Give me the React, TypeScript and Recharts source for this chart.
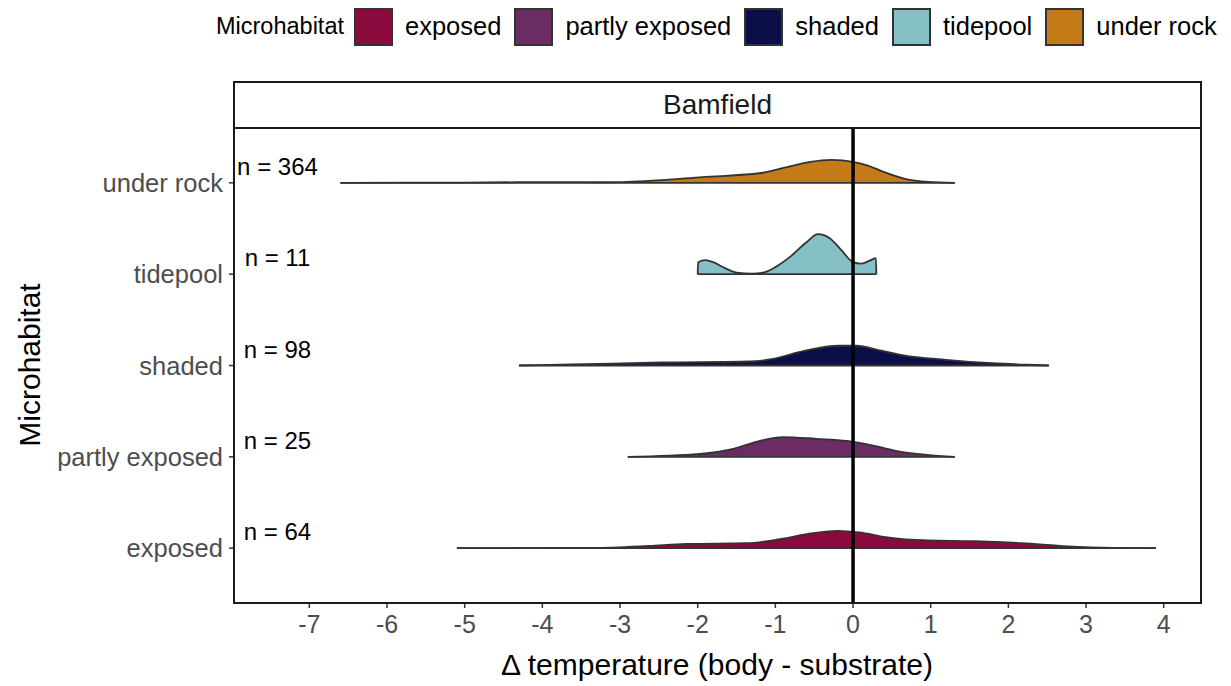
import { ComposedChart, Area, Scatter, XAxis, YAxis, ReferenceLine } from 'recharts';

// Microhabitat rows, bottom to top
const categories = ['exposed', 'partly exposed', 'shaded', 'tidepool', 'under rock'];
const colors = ['#8A0A3E', '#6A2C62', '#0C0F47', '#84C0C6', '#C47A17'];
const counts = [64, 25, 98, 11, 364];
const xTicks = [-7, -6, -5, -4, -3, -2, -1, 0, 1, 2, 3, 4];

// density ridges: [delta temperature, ridge height in row units]
const exposed = [
    [-5.1, 0], [-3.35, 0.003], [-2.63, 0.025], [-2.15, 0.047], [-1.37, 0.055], [-0.94, 0.099],
    [-0.52, 0.164], [-0.2, 0.189], [0.08, 0.172], [0.42, 0.12], [0.97, 0.084], [1.56, 0.077],
    [2.17, 0.055], [2.76, 0.019], [3.36, 0.003], [3.9, 0],
];
const partlyExposed = [
    [-2.9, 0], [-1.97, 0.033], [-1.54, 0.088], [-1.2, 0.175], [-0.9, 0.216], [-0.47, 0.197],
    [-0.08, 0.175], [0.26, 0.124], [0.6, 0.058], [0.95, 0.022], [1.31, 0],
];
const shaded = [
    [-4.3, 0], [-3.63, 0.011], [-2.47, 0.033], [-1.33, 0.044], [-1.05, 0.069], [-0.63, 0.161],
    [-0.18, 0.216], [0.05, 0.216], [0.33, 0.168], [0.65, 0.11], [1.2, 0.062], [1.8, 0.025],
    [2.25, 0.008], [2.52, 0],
];
const tidepool = [
    [-2.0, 0], [-1.995, 0.131], [-1.9, 0.153], [-1.8, 0.131], [-1.65, 0.066], [-1.5, 0.016],
    [-1.3, 0.005], [-1.16, 0.016], [-1.0, 0.077], [-0.8, 0.197], [-0.6, 0.35], [-0.45, 0.438],
    [-0.3, 0.394], [-0.15, 0.263], [0, 0.131], [0.1, 0.115], [0.2, 0.142], [0.295, 0.175], [0.3, 0],
];
const underRock = [
    [-6.6, 0], [-5.0, 0.003], [-3.8, 0.008], [-3.2, 0.006], [-2.68, 0.019], [-1.94, 0.062],
    [-1.16, 0.11], [-0.85, 0.172], [-0.55, 0.23], [-0.28, 0.252], [0, 0.23], [0.2, 0.186],
    [0.36, 0.131], [0.67, 0.044], [0.97, 0.011], [1.31, 0],
];
const ridges = [exposed, partlyExposed, shaded, tidepool, underRock];

// n labels sit left of the ridges
const labelX = -7.41;
const labelLift = 0.18;

const FONT = '"Liberation Sans", Arial, sans-serif';
const W = 1231;
const H = 686;

const ridgeData = ridges.map((pts, i) =>
    pts.map(([x, h]) => ({ x, range: [i + 1, i + 1 + h] }))
);
const nLabels = counts.map((n, i) => ({ x: labelX, y: i + 1 + labelLift, label: `n = ${n}` }));

const NLabel = (props: any) => (
    <text x={props.cx} y={props.cy} textAnchor="middle" dominantBaseline="central"
        fontSize={24} fontFamily={FONT} fill="#000">
        {props.payload.label}
    </text>
);

export default function App() {
    return (
        <div style={{ position: 'fixed', left: 0, top: 0, width: W, height: H, background: '#fff', fontFamily: FONT }}>
            {/* legend */}
            <div style={{ position: 'absolute', left: 216, top: 7, height: 39, display: 'flex', alignItems: 'center', whiteSpace: 'nowrap' }}>
                <span style={{ fontSize: 23.5, marginRight: 10 }}>Microhabitat</span>
                {categories.map((c, i) => (
                    <span key={c} style={{ display: 'flex', alignItems: 'center', marginRight: 13 }}>
                        <span style={{ width: 39, height: 38, boxSizing: 'border-box', border: '2px solid #333', background: colors[i], display: 'inline-block' }} />
                        <span style={{ fontSize: 25.5, marginLeft: 12 }}>{c}</span>
                    </span>
                ))}
            </div>

            {/* facet strip */}
            <div style={{
                position: 'absolute', left: 233, top: 81, width: 969, height: 48, boxSizing: 'border-box',
                border: '2px solid #1a1a1a', display: 'flex', alignItems: 'center', justifyContent: 'center',
                fontSize: 28, color: '#1a1a1a',
            }}>
                Bamfield
            </div>

            <div style={{ position: 'absolute', left: 0, top: 0 }}>
                <ComposedChart width={W} height={H} margin={{ top: 128, right: 30, bottom: 0, left: 0 }}>
                    <XAxis
                        type="number"
                        dataKey="x"
                        domain={[-7.97, 4.48]}
                        ticks={xTicks}
                        allowDataOverflow
                        height={83}
                        axisLine={false}
                        tickSize={5}
                        tickMargin={7}
                        tickLine={{ stroke: '#333', strokeWidth: 1.5 }}
                        tick={{ fill: '#4D4D4D', fontSize: 25, fontFamily: FONT }}
                    />
                    <YAxis
                        type="number"
                        domain={[0.4, 5.6]}
                        ticks={[1, 2, 3, 4, 5]}
                        allowDataOverflow
                        width={234}
                        axisLine={false}
                        tickSize={5}
                        tickMargin={6}
                        tickLine={{ stroke: '#333', strokeWidth: 1.5 }}
                        tickFormatter={(v: number) => categories[v - 1] ?? ''}
                        tick={{ fill: '#4D4D4D', fontSize: 25.5, fontFamily: FONT }}
                    />
                    {ridgeData.map((d, i) => (
                        <Area
                            key={categories[i]}
                            data={d}
                            dataKey="range"
                            type="monotone"
                            fill={colors[i]}
                            fillOpacity={1}
                            stroke="#333"
                            strokeWidth={1.8}
                            isAnimationActive={false}
                            dot={false}
                            activeDot={false}
                        />
                    ))}
                    <ReferenceLine x={0} stroke="#000" strokeWidth={3.5} />
                    <Scatter data={nLabels} dataKey="y" shape={NLabel} isAnimationActive={false} />
                </ComposedChart>
            </div>

            {/* panel border */}
            <div style={{ position: 'absolute', left: 233, top: 127, width: 969, height: 477, boxSizing: 'border-box', border: '2px solid #1a1a1a', pointerEvents: 'none' }} />

            {/* axis titles */}
            <div style={{ position: 'absolute', left: 717, top: 665, transform: 'translate(-50%, -50%)', fontSize: 30, whiteSpace: 'nowrap' }}>
                Δ temperature (body - substrate)
            </div>
            <div style={{ position: 'absolute', left: 30, top: 365, transform: 'translate(-50%, -50%) rotate(-90deg)', fontSize: 30, whiteSpace: 'nowrap' }}>
                Microhabitat
            </div>
        </div>
    );
}
